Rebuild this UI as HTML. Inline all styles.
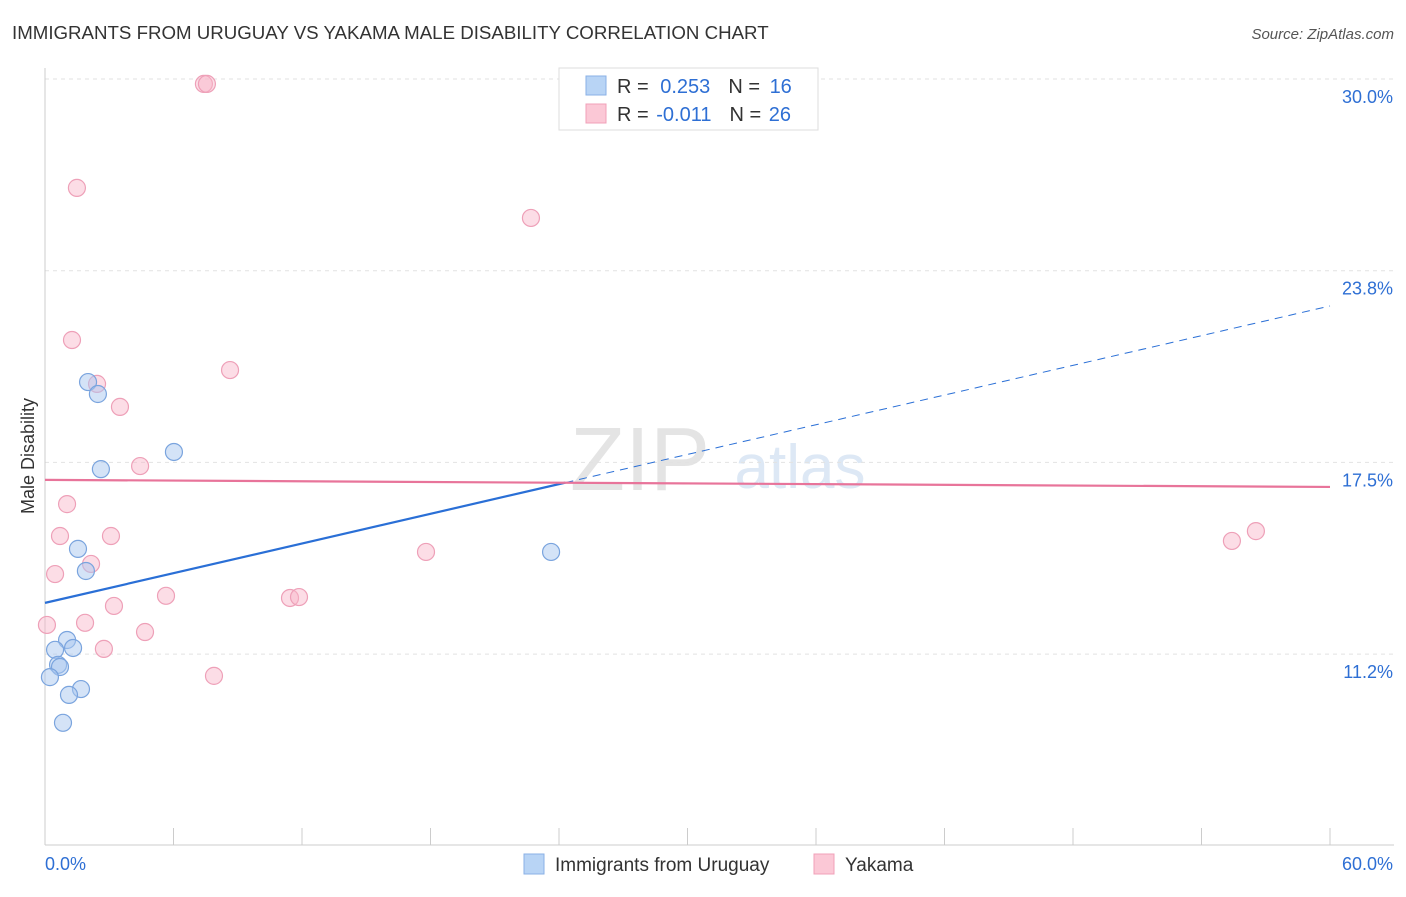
<!DOCTYPE html>
<html><head><meta charset="utf-8"><style>
body{margin:0;background:#fff;font-family:"Liberation Sans",sans-serif;}
svg text{font-family:"Liberation Sans",sans-serif;}
</style></head><body>
<svg id="c" width="1406" height="892" xmlns="http://www.w3.org/2000/svg">
<text x="12" y="39" font-size="18.7" fill="#333">IMMIGRANTS FROM URUGUAY VS YAKAMA MALE DISABILITY CORRELATION CHART</text>
<text x="1394" y="39" font-size="15" fill="#555" font-style="italic" text-anchor="end">Source: ZipAtlas.com</text>
<text x="34" y="456" font-size="18" fill="#333" text-anchor="middle" transform="rotate(-90 34 456)">Male Disability</text>
<text x="640" y="490" font-size="90" fill="#e4e4e4" font-family="Liberation Serif" text-anchor="middle">ZIP</text>
<text x="800" y="488" font-size="62" fill="#dde8f5" text-anchor="middle">atlas</text>
<g id="grid"></g><g id="marks"></g>
<g>
<rect x="559" y="68" width="259" height="62" fill="#fff" stroke="#ddd"/>
<rect x="586" y="76" width="20" height="19" fill="#b8d4f5" stroke="#8ab0e6"/>
<rect x="586" y="104" width="20" height="19" fill="#fbc8d6" stroke="#f0a0b8"/>
<text x="617" y="93" font-size="20" fill="#333">R = <tspan fill="#2e6fd4" dx="6">0.253</tspan><tspan fill="#333" dx="18">N = </tspan><tspan fill="#2e6fd4" dx="4">16</tspan></text>
<text x="617" y="121" font-size="20" fill="#333">R = <tspan fill="#2e6fd4" dx="2">-0.011</tspan><tspan fill="#333" dx="18">N = </tspan><tspan fill="#2e6fd4" dx="2">26</tspan></text>
</g>
<g>
<rect x="524" y="854" width="20" height="20" fill="#b8d4f5" stroke="#8ab0e6"/>
<text x="555" y="871" font-size="19" fill="#333">Immigrants from Uruguay</text>
<rect x="814" y="854" width="20" height="20" fill="#fbc8d6" stroke="#f0a0b8"/>
<text x="845" y="871" font-size="19" fill="#333">Yakama</text>
</g>
</svg>
<script>
const yTicks=[30.0,23.75,17.5,11.25];
const yTickLabels=["30.0%","23.8%","17.5%","11.2%"];
const xTickCount=10;
const blueX=[2.01,2.47,2.61,6.02,1.54,1.91,1.03,0.47,1.31,0.61,0.70,0.23,1.68,1.12,0.84,23.63];
const blueY=[20.12,19.73,17.28,17.84,14.68,13.96,11.71,11.39,11.45,10.90,10.83,10.50,10.11,9.92,9.01,14.58];
const pinkX=[7.42,7.56,1.49,22.69,1.26,8.64,2.43,3.50,4.44,1.03,0.70,3.08,0.47,2.15,17.79,55.42,56.54,5.65,3.22,11.44,11.86,0.09,1.87,4.67,2.75,7.89];
const pinkY=[29.84,29.84,26.45,25.47,21.49,20.51,20.06,19.31,17.38,16.14,15.10,15.10,13.86,14.19,14.58,14.94,15.26,13.15,12.82,13.08,13.11,12.20,12.27,11.97,11.42,10.54];
const blueTrend=[12.92,22.60];
const pinkTrend=[16.93,16.70];
const blueSolidEnd=24.3;
const X=v=>45+v/60*1285, Y=v=>79+(30-v)/6.25*191.7;
const NS="http://www.w3.org/2000/svg";
function mk(p,t,a){const e=document.createElementNS(NS,t);for(const k in a)e.setAttribute(k,a[k]);p.appendChild(e);return e;}
const g=document.getElementById('grid'),m=document.getElementById('marks');
yTicks.forEach((t,i)=>{
 const l=mk(g,'line',{x1:45,x2:1394,y1:Y(t),y2:Y(t),stroke:'#e2e2e2','stroke-dasharray':'4,4'});
 
 
 const tx=mk(g,'text',{x:1393,y:Y(t)+24,'font-size':18,fill:'#2e6fd4','text-anchor':'end'});tx.textContent=yTickLabels[i];
 
 
});
const ax=mk(g,'line',{x1:45,x2:1394,y1:845,y2:845,stroke:'#ccc'});


const ay=mk(g,'line',{x1:45,x2:45,y1:68,y2:845,stroke:'#ccc'});


for(let i=0;i<=xTickCount;i++){const v=i*60/xTickCount;
 const t=mk(g,'line',{x1:X(v),x2:X(v),y1:828,y2:845,stroke:'#ccc'});
 
 }
const xl=mk(g,'text',{x:45,y:870,'font-size':18,fill:'#2e6fd4'});xl.textContent='0.0%';


const xr=mk(g,'text',{x:1393,y:870,'font-size':18,fill:'#2e6fd4','text-anchor':'end'});xr.textContent='60.0%';


pinkX.forEach((x,i)=>{const c=mk(m,'circle',{cx:X(x),cy:Y(pinkY[i]),r:8.5,fill:'rgba(248,180,200,0.45)',stroke:'#eea0b8','stroke-width':1.2});
 
 });
blueX.forEach((x,i)=>{const c=mk(m,'circle',{cx:X(x),cy:Y(blueY[i]),r:8.5,fill:'rgba(170,200,240,0.5)',stroke:'#7aa4de','stroke-width':1.2});
 
 });
const by=v=>blueTrend[0]+(blueTrend[1]-blueTrend[0])*v/60;
const b1=mk(m,'line',{x1:X(0),y1:Y(by(0)),x2:X(blueSolidEnd),y2:Y(by(blueSolidEnd)),stroke:'#2a6fd6','stroke-width':2.2});


const b2=mk(m,'line',{x1:X(blueSolidEnd),y1:Y(by(blueSolidEnd)),x2:X(60),y2:Y(by(60)),stroke:'#2a6fd6','stroke-width':1,'stroke-dasharray':'8,6'});


const p1=mk(m,'line',{x1:X(0),y1:Y(pinkTrend[0]),x2:X(60),y2:Y(pinkTrend[1]),stroke:'#e8749a','stroke-width':2.2});


</script>
</body></html>
